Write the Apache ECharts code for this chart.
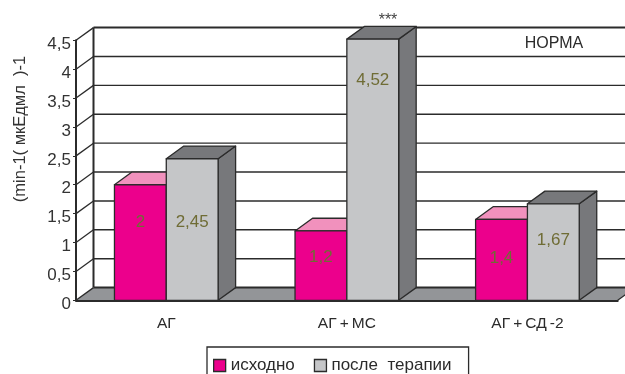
<!DOCTYPE html>
<html>
<head>
<meta charset="utf-8">
<style>html,body{margin:0;padding:0;background:#fff}#chart{width:625px;height:374px}</style>
<script src="https://cdn.jsdelivr.net/npm/echarts@6/dist/echarts.min.js"></script>
</head>
<body>
<div id="chart"></div>
<script>
// Insulin sensitivity index by patient group, before and after therapy
const categories = ['АГ', 'АГ\u2009+\u2009МС', 'АГ\u2009+\u2009СД\u2009-2'];
const seriesNames = ['исходно', 'после  терапии'];
const baseline = [2, 1.2, 1.4];
const afterTherapy = [2.45, 4.52, 1.67];
const yTicks = [0, 0.5, 1, 1.5, 2, 2.5, 3, 3.5, 4, 4.5];

// Height on the value axis at which each value label sits
const baselineLabelAt = [1.35, 0.75, 0.73];
const afterLabelAt = [1.35, 3.8, 1.03];

const DEPTH_X = 17.5, DEPTH_Y = 12.7;
const BAR_FRACTION = 0.287;
const EDGE = '#2b2b2b';
const FONT = '"Liberation Sans", Arial, sans-serif';
const comma = v => String(v).replace('.', ',');

// Front face plus the top and side faces of one box
function boxRenderer(values, labelAt, side, front, top, right) {
  return function (params, api) {
    const i = api.value(0);
    const base = api.coord([i, 0]);
    const peak = api.coord([i, values[i]]);
    const w = api.size([1, 0])[0] * BAR_FRACTION;
    const x0 = base[0] + (side < 0 ? -w : 0);
    const x1 = x0 + w;
    const yb = base[1], yt = peak[1];
    const shape = pts => ({ points: pts });
    const stroke = { stroke: EDGE, lineWidth: 1.3, lineJoin: 'round' };
    return {
      type: 'group',
      children: [
        { type: 'polygon', shape: shape([[x1, yb], [x1 + DEPTH_X, yb - DEPTH_Y], [x1 + DEPTH_X, yt - DEPTH_Y], [x1, yt]]), style: { fill: right, ...stroke } },
        { type: 'polygon', shape: shape([[x0, yt], [x1, yt], [x1 + DEPTH_X, yt - DEPTH_Y], [x0 + DEPTH_X, yt - DEPTH_Y]]), style: { fill: top, ...stroke } },
        { type: 'rect', shape: { x: x0, y: yt, width: w, height: yb - yt }, style: { fill: front, ...stroke } },
        { type: 'text', z2: 10, style: { text: comma(values[i]), x: (x0 + x1) / 2, y: api.coord([i, labelAt[i]])[1], fill: '#6f6c35', font: '17px ' + FONT, align: 'center', verticalAlign: 'middle' } }
      ]
    };
  };
}

// Back wall lines, wall diagonals and the floor, one item per axis tick
function wallRenderer(params, api) {
  const v = api.value(0);
  const p = api.coord([0, v]);
  const xLeft = api.coord([0, 0])[0] - api.size([1, 0])[0] / 2;
  const xRight = xLeft + api.size([1, 0])[0] * categories.length;
  const y = p[1];
  const isEnd = v === 0 || v === yTicks[yTicks.length - 1];
  const line = (x1, y1, x2, y2, lw) => ({ type: 'line', shape: { x1, y1, x2, y2 }, style: { stroke: EDGE, lineWidth: lw } });
  const children = [];
  if (v === 0) {
    children.push({ type: 'polygon', shape: { points: [[xLeft, y], [xLeft + DEPTH_X, y - DEPTH_Y], [xRight + DEPTH_X, y - DEPTH_Y], [xRight, y]] }, style: { fill: '#939598' } });
    const topY = api.coord([0, yTicks[yTicks.length - 1]])[1];
    children.push(line(xLeft + DEPTH_X, y - DEPTH_Y, xLeft + DEPTH_X, topY - DEPTH_Y, 2));
    children.push(line(xRight, y, xRight + DEPTH_X, y - DEPTH_Y, 1.3));
  }
  children.push(line(xLeft + DEPTH_X, y - DEPTH_Y, xRight + DEPTH_X, y - DEPTH_Y, isEnd ? 2 : 1.4));
  children.push(line(xLeft, y, xLeft + DEPTH_X, y - DEPTH_Y, 1.3));
  return { type: 'group', children };
}

const chart = echarts.init(document.getElementById('chart'), null, { renderer: 'canvas' });
const catIndex = categories.map((_, i) => i);

chart.setOption({
  animation: false,
  backgroundColor: '#ffffff',
  textStyle: { fontFamily: FONT },
  grid: { left: 76, top: 40.3, width: 541.7, height: 260 },
  xAxis: {
    type: 'category',
    data: categories,
    z: 5,
    axisLine: { lineStyle: { color: EDGE, width: 2 } },
    axisTick: { length: 3, lineStyle: { color: EDGE, width: 1 } },
    axisLabel: { color: '#2b2b2b', fontSize: 15.5, margin: 15, fontFamily: FONT }
  },
  yAxis: {
    type: 'value',
    min: 0,
    max: 4.5,
    interval: 0.5,
    z: 5,
    splitLine: { show: false },
    axisLine: { show: true, lineStyle: { color: EDGE, width: 2 } },
    axisTick: { show: true, length: 3, lineStyle: { color: EDGE, width: 1 } },
    axisLabel: { color: '#333333', fontSize: 17, margin: 5, verticalAlign: 'top', lineHeight: 8, fontFamily: FONT, formatter: v => comma(v) }
  },
  legend: {
    left: 207,
    top: 347,
    itemWidth: 12,
    itemHeight: 12,
    itemGap: 19,
    padding: [10, 17, 12, 6],
    borderColor: EDGE,
    borderWidth: 1.3,
    selectedMode: false,
    textStyle: { color: '#2b2b2b', fontSize: 17, fontFamily: FONT },
    data: [
      { name: seriesNames[0], icon: 'rect', itemStyle: { color: '#ec008c', borderColor: EDGE, borderWidth: 1.3 } },
      { name: seriesNames[1], icon: 'rect', itemStyle: { color: '#c5c6c8', borderColor: EDGE, borderWidth: 1.3 } }
    ]
  },
  title: [
    { text: 'НОРМА', left: 554, top: 44, textAlign: 'center', textVerticalAlign: 'middle', padding: 0, textStyle: { color: '#2b2b2b', fontSize: 16, fontWeight: 'normal', fontFamily: FONT } },
    { text: '***', left: 388, top: 21, textAlign: 'center', textVerticalAlign: 'middle', padding: 0, textStyle: { color: '#444444', fontSize: 16, fontWeight: 'normal', fontFamily: FONT } }
  ],
  graphic: [{
    type: 'text',
    rotation: Math.PI / 2,
    x: 20,
    y: 129,
    style: { text: '(min-1( мкЕдмл  )-1', fill: '#333333', font: '16.5px ' + FONT, align: 'center', verticalAlign: 'middle' }
  }],
  series: [
    { type: 'custom', name: 'wall', z: 1, silent: true, renderItem: wallRenderer, data: yTicks.map(v => [v]), encode: { y: 0 } },
    { type: 'custom', name: seriesNames[0], z: 2, renderItem: boxRenderer(baseline, baselineLabelAt, -1, '#ec008c', '#f191bd', '#77787b'), data: catIndex.map(i => [i, baseline[i]]), encode: { x: 0, y: 1 } },
    { type: 'custom', name: seriesNames[1], z: 3, renderItem: boxRenderer(afterTherapy, afterLabelAt, 1, '#c5c6c8', '#77787b', '#77787b'), data: catIndex.map(i => [i, afterTherapy[i]]), encode: { x: 0, y: 1 } }
  ]
});
</script>
</body>
</html>
